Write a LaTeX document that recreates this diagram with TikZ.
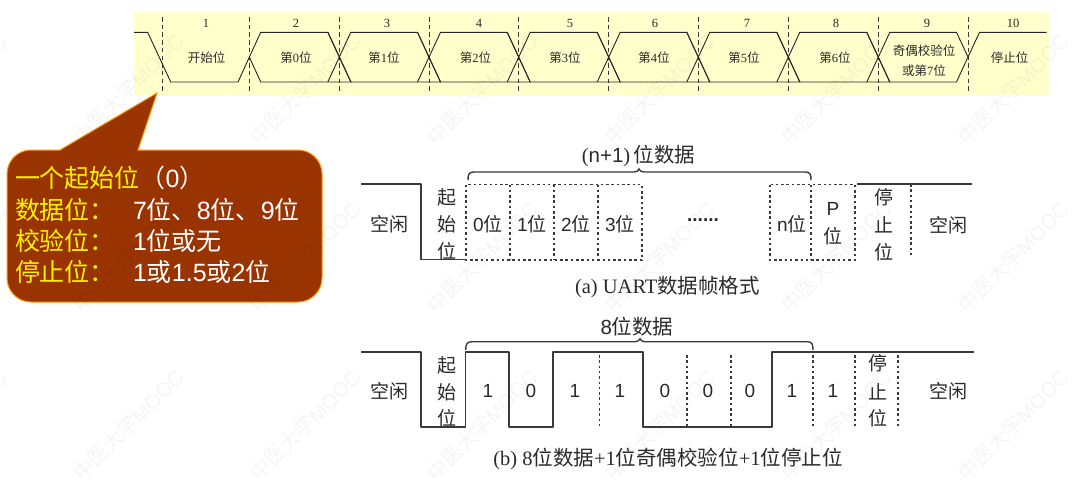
\documentclass[tikz,border=0pt]{standalone}
\usepackage{fontspec}
\setmainfont{Liberation Serif}
\setsansfont{Liberation Sans}
\newfontfamily\cjk{Noto Sans CJK SC}
\newcommand\zh[1]{{\cjk #1}}
\definecolor{stripyellow}{HTML}{FFFFCC}
\definecolor{calloutfill}{HTML}{993300}
\definecolor{calloutedge}{HTML}{FF9900}
\definecolor{inkdark}{HTML}{2A2A2A}
\definecolor{inkgray}{HTML}{3A3A3A}
\tikzset{
  x=1pt,y=-1pt,
  lbl/.style={inner sep=0pt,outer sep=0pt,text=inkdark,anchor=center},
  toptxt/.style={lbl,font=\fontsize{12.5}{13}\selectfont},
  toptick/.style={draw=inkgray,line width=0.9pt,dash pattern=on 4.5pt off 3.2pt},
  topwave/.style={draw=black!85,line width=0.9pt},
  wave/.style={draw=inkgray,line width=1.7pt,line join=round},
  dotline/.style={draw=inkgray,line width=1.6pt,dash pattern=on 2.5pt off 2.8pt},
  brace/.style={draw=inkgray,line width=1.4pt},
  body/.style={lbl,font=\fontsize{19}{20}\selectfont},
  headline/.style={lbl,font=\fontsize{20.5}{21}\selectfont},
  bits/.style={lbl,font=\sffamily\fontsize{19}{20}\selectfont},
  caption/.style={lbl,font=\fontsize{20.5}{22}\selectfont},
  calltxt/.style={inner sep=0pt,outer sep=0pt,anchor=west,font=\sffamily\fontsize{25}{26}\selectfont},
  wmark/.style={inner sep=0pt,rotate=45,text=black,text opacity=0.04,font=\sffamily\fontsize{20.5}{21}\selectfont}
}
\begin{document}
\begin{tikzpicture}
\useasboundingbox (0,0) rectangle (1082,485);
\fill[white] (0,0) rectangle (1082,485);
% top strip
\fill[stripyellow] (134,12) rectangle (1049,94.5);
\foreach \x in {162,249.3,339.3,429,518.7,608.7,698.3,788.3,878.3,968}
  \draw[toptick] (\x,17) -- (\x,92);
\draw[topwave] (134,32.3) -- (147.7,32.3) -- (170.7,82) -- (238,82) -- (260.7,32.3)
  -- (328,32.3) -- (351,82) -- (260.7,82) -- (249.3,57);
\foreach \a/\b in {339.3/429,429/518.7,518.7/608.7,608.7/698.3,698.3/788.3,788.3/878.3}{
  \draw[topwave] (\a-11.5,82) -- (\a+11.5,32.3) -- (\b-11.5,32.3) -- (\b+11.5,82) -- (\a+11.5,82) -- (\a-11.5,32.3);
}
\draw[topwave] (866.8,82) -- (889.8,32.3) -- (956.5,32.3) -- (968,57) -- (956.5,82) -- (889.8,82) -- (866.8,32.3);
\draw[topwave] (968,57) -- (979.5,32.3) -- (1046.7,32.3);
\foreach \n/\x in {1/206,2/296,3/387,4/479,5/570,6/655,7/747,8/836,9/927,10/1013}
  \node[toptxt] (num\n) at (\x,23.3) {\n};
\node[toptxt] (t1) at (206.5,58) {\zh{开始位}};
\node[toptxt] (t2) at (296,58) {\zh{第}0\zh{位}};
\node[toptxt] (t3) at (384,58) {\zh{第}1\zh{位}};
\node[toptxt] (t4) at (475.5,58) {\zh{第}2\zh{位}};
\node[toptxt] (t5) at (565,58) {\zh{第}3\zh{位}};
\node[toptxt] (t6) at (654,58) {\zh{第}4\zh{位}};
\node[toptxt] (t7) at (744,58) {\zh{第}5\zh{位}};
\node[toptxt] (t8) at (835,58) {\zh{第}6\zh{位}};
\node[toptxt] (t9a) at (924,50.7) {\zh{奇偶校验位}};
\node[toptxt] (t9b) at (924,70.7) {\zh{或第}7\zh{位}};
\node[toptxt] (t10) at (1009.5,58) {\zh{停止位}};
% callout
\draw[fill=calloutfill,draw=calloutedge,line width=1pt]
  (60,150) -- (157,93) -- (138,150)
  {[rounded corners=24pt] -- (322,150) -- (322,302) -- (7,302) -- (7,150)} -- (60,150) -- cycle;
\node[calltxt,text=yellow] (c1) at (15,178) {\zh{一个起始位}};
\node[calltxt,text=white] (c1b) at (140.5,178) {\zh{（}0\zh{）}};
\node[calltxt,text=yellow] (c2) at (15,210) {\zh{数据位：}};
\node[calltxt,text=yellow] (c3) at (15,240.5) {\zh{校验位：}};
\node[calltxt,text=yellow] (c4) at (15,272) {\zh{停止位：}};
\node[calltxt,text=white] (v2) at (133,210) {7\zh{位、}8\zh{位、}9\zh{位}};
\node[calltxt,text=white] (v3) at (133,240.5) {1\zh{位或无}};
\node[calltxt,text=white] (v4) at (133,272) {1\zh{或}1.5\zh{或}2\zh{位}};
% part (a)
\draw[wave] (361,183.7) -- (421,183.7) -- (421,259.5) -- (465.7,259.5);
\draw[dotline] (466,184.5) rectangle (642,260);
\foreach \x in {510,554,598} \draw[dotline] (\x,184.5) -- (\x,260);
\draw[dotline] (770,184.5) rectangle (855,260);
\draw[dotline] (811,184.5) -- (811,260);
\draw[wave] (857,183.7) -- (971.7,183.7);
\draw[dotline] (911,184) -- (911,258);
\draw[brace] (468,180) .. controls (468,174) and (469,172) .. (474,172) -- (634,172)
  .. controls (637,172) and (638,171) .. (639,169) .. controls (640,171) and (641,172) .. (644,172)
  -- (805,172) .. controls (810,172) and (811,174) .. (811,180);
\node[headline] (a0) at (638.5,156) {(\textsf{n+1})\,\zh{位数据}};
\node[body] (a1) at (389,224) {\zh{空闲}};
\node[body] (a2) at (447,197) {\zh{起}};
\node[body] (a3) at (447,224) {\zh{始}};
\node[body] (a4) at (447,251) {\zh{位}};
\node[body] (a5) at (488,224) {\textsf{0}\zh{位}};
\node[body] (a6) at (532,224) {\textsf{1}\zh{位}};
\node[body] (a7) at (576,224) {\textsf{2}\zh{位}};
\node[body] (a8) at (620,224) {\textsf{3}\zh{位}};
\node[body] (a9) at (703,220.5) {\textsf{\textbf{......}}};
\node[body] (a10) at (792,224) {\textsf{n}\zh{位}};
\node[body] (a11) at (833,209) {\textsf{P}};
\node[body] (a12) at (833,236) {\zh{位}};
\node[body] (a13) at (884,197) {\zh{停}};
\node[body] (a14) at (884,225) {\zh{止}};
\node[body] (a15) at (884,252) {\zh{位}};
\node[body] (a16) at (948,225) {\zh{空闲}};
\node[caption] (a17) at (667.5,287) {(a) UART\zh{数据帧格式}};
% part (b)
\draw[wave] (361,352.3) -- (421,352.3) -- (421,427) -- (465.5,427) -- (465.5,352.3) -- (509,352.3)
  -- (509,427) -- (552.7,427) -- (552.7,352.3) -- (642.7,352.3) -- (642.7,427) -- (771.7,427)
  -- (771.7,352.3) -- (974,352.3);
\foreach \x in {599.3,686.7,730.7,813,855,897.7} \draw[dotline] (\x,355) -- (\x,427);
\draw[brace] (465.7,350) .. controls (465.7,344) and (467,341.7) .. (472,341.7) -- (635,341.7)
  .. controls (638,341.7) and (639,340.7) .. (640,338.7) .. controls (641,340.7) and (642,341.7) .. (645,341.7)
  -- (807,341.7) .. controls (812,341.7) and (813,344) .. (813,350);
\node[headline] (b0) at (637,327) {\textsf{8}\zh{位数据}};
\node[body] (b1) at (389,391) {\zh{空闲}};
\node[body] (b2) at (447,365) {\zh{起}};
\node[body] (b3) at (447,392) {\zh{始}};
\node[body] (b4) at (447,418) {\zh{位}};
\foreach \n/\x/\d in {1/488/1,2/531/0,3/575/1,4/620/1,5/665/0,6/708/0,7/750/0,8/792/1,9/833/1}
  \node[bits] (bit\n) at (\x,391) {\d};
\node[body] (b5) at (878,363) {\zh{停}};
\node[body] (b6) at (878,392) {\zh{止}};
\node[body] (b7) at (878,418) {\zh{位}};
\node[body] (b8) at (948,391) {\zh{空闲}};
\node[caption] (b9) at (668,459) {(b) 8\zh{位数据}+1\zh{位奇偶校验位}+1\zh{位停止位}};
% watermark
\foreach \r/\y in {1/89,2/257,3/425}
  \foreach \c/\x in {1/-49,2/128,3/305,4/482,5/659,6/836,7/1013}
    \node[wmark] (wm\r\c) at (\x,\y) {\zh{中医大学}MOOC};
\end{tikzpicture}
\end{document}
